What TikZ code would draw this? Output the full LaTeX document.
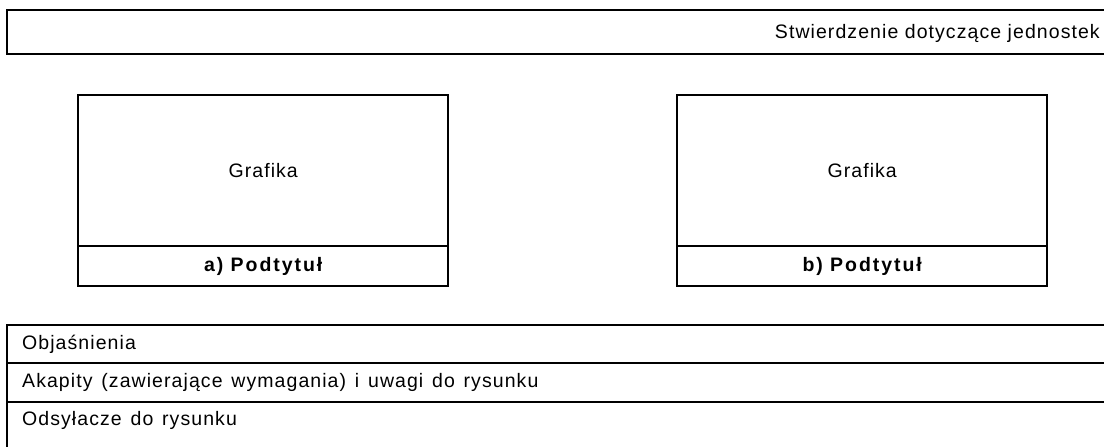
\documentclass[tikz,border=0pt]{standalone}
\usepackage{fontspec}
\setmainfont{Liberation Sans}[LetterSpace=5.5]
\begin{document}
\begin{tikzpicture}[x=1pt,y=-1pt,
  heavy/.style={line width=2pt},
  light/.style={line width=1.2pt},
  txt/.style={font=\fontsize{19.5}{22}\selectfont},
  boldtxt/.style={font=\fontsize{19.5}{22}\selectfont\bfseries\addfontfeature{LetterSpace=10}},
  cell/.style={draw=none, inner sep=0pt, rectangle, txt},
  rowcell/.style={draw=none, rectangle, inner xsep=15pt, inner ysep=0pt, txt,
    execute at begin node={\spaceskip=8.8pt\relax},
    text width=1080pt, align=left, anchor=north west},
]
\useasboundingbox (0,0) rectangle (1104,447);
% header
\node[cell, minimum width=1110pt, minimum height=44pt, anchor=north west] (hdr) at (7,10) {};
\node[cell, anchor=base east] (hdrtxt) at (1100,38) {Stwierdzenie dotyczące jednostek};
\draw[heavy] (hdr.north east) -- (hdr.north west) -- (hdr.south west) -- (hdr.south east);
% box a
\node[cell, minimum width=370pt, minimum height=151pt, anchor=north west] (gA) at (78,95) {Grafika};
\node[cell, minimum width=370pt, minimum height=40pt, anchor=north west, boldtxt] (cA) at (78,246) {a) Podtytuł};
\draw[heavy] (gA.north west) rectangle (cA.south east);
\draw[light] (cA.north west) -- (cA.north east);
% box b
\node[cell, minimum width=370pt, minimum height=151pt, anchor=north west] (gB) at (677,95) {Grafika};
\node[cell, minimum width=370pt, minimum height=40pt, anchor=north west, boldtxt] (cB) at (677,246) {b) Podtytuł};
\draw[heavy] (gB.north west) rectangle (cB.south east);
\draw[light] (cB.north west) -- (cB.north east);
% bottom rows
\node[rowcell, minimum height=38pt] (r1) at (7,325) {Objaśnienia};
\node[rowcell, minimum height=39pt] (r2) at (7,363) {Akapity (zawierające wymagania) i uwagi do rysunku};
\node[rowcell, minimum height=37pt] (r3) at (7,402) {Odsyłacze do rysunku};
\coordinate (bl) at (7,452);
\draw[heavy] ([xshift=5pt]r1.north east) -- (r1.north west) -- (bl);
\draw[heavy] (r2.north west) -- ([xshift=5pt]r2.north east);
\draw[heavy] (r3.north west) -- ([xshift=5pt]r3.north east);
\end{tikzpicture}
\end{document}
